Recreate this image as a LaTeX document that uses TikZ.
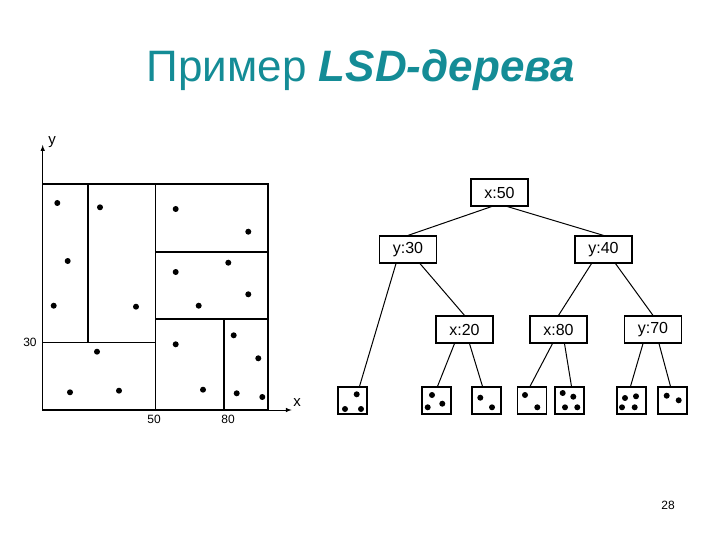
\documentclass[tikz,border=0pt]{standalone}
\usepackage{fontspec}
\setmainfont{Liberation Sans}
\usetikzlibrary{calc}
\definecolor{titlec}{RGB}{20,140,150}
\begin{document}
\begin{tikzpicture}[x=1pt,y=-1pt,
  dot/.style={circle,fill=black,inner sep=0pt,minimum size=6pt},
  tnode/.style={draw,line width=1.2pt,minimum width=57pt,minimum height=27pt,inner sep=0pt,font=\fontsize{16}{16}\selectfont},
  leaf/.style={draw,line width=1.2pt,minimum width=29pt,minimum height=27pt,inner sep=0pt},
  edge/.style={line width=1pt},
  lbl/.style={font=\fontsize{12}{12}\selectfont,inner sep=1pt}]
\useasboundingbox (0,0) rectangle (720,540);
\node[text=titlec,font=\fontsize{44}{44}\selectfont] (title) at (361,70) {Пример \textbf{\textit{LSD-дерева}}};
% axes
\coordinate (o) at (42.7,410);
\coordinate (ytop) at (42.7,145);
\coordinate (xend) at (291.7,410);
\draw[line width=1pt,-latex] (o) -- (ytop);
\draw[line width=1pt,-latex] (o) -- (xend);
\node[lbl,font=\fontsize{15}{15}\selectfont] (ylab) at (52,142) {y};
\node[lbl,font=\fontsize{15}{15}\selectfont] (xlab) at (297,403) {x};
\node[lbl] (l30) at (30,342) {30};
\node[lbl] (l50) at (154,419) {50};
\node[lbl] (l80) at (228,419) {80};
% partition
\begin{scope}[line width=1.2pt]
\draw (42.7,184) rectangle (268,410);
\draw (155.7,184) -- (155.7,410);
\draw (42.7,342.7) -- (155.7,342.7);
\draw (88,184) -- (88,342.7);
\draw (155.7,252) -- (268,252);
\draw (155.7,319) -- (268,319);
\draw (224,319) -- (224,410);
\end{scope}
\foreach \p [count=\i] in {(57.3,203),(100,207.3),(67.7,261),(53.7,305.7),(136,306.7),(175.7,209),(248.3,231.7),(228.3,262.7),(175.7,272),(248.3,294.3),(198.7,305.7),(97,351.7),(70,392.3),(119,390.7),(175.7,344.3),(203,389.7),(233.7,335.3),(258.3,358.3),(236.7,393.3),(262.3,397)}
  \node[dot] (p\i) at \p {};
% tree
\node[tnode] (n50) at (499.5,192.5) {x:50};
\node[tnode] (n30) at (408,249.5) {y:30};
\node[tnode] (n40) at (603.5,249.5) {y:40};
\node[tnode] (n20) at (464.5,329.5) {x:20};
\node[tnode] (n80) at (558.5,329.5) {x:80};
\node[tnode] (n70) at (653,329.5) {y:70};
\node[leaf] (f1) at (352.5,400.5) {};
\node[leaf] (f2) at (436.5,400.5) {};
\node[leaf] (f3) at (486.5,400.5) {};
\node[leaf] (f4) at (532,400.5) {};
\node[leaf] (f5) at (569.5,400.5) {};
\node[leaf] (f6) at (631.5,400.5) {};
\node[leaf] (f7) at (672.5,400.5) {};
\draw[edge] ($(n50.south)+(-8,0)$) -- (n30.north);
\draw[edge] ($(n50.south)+(8,0)$) -- (n40.north);
\draw[edge] ($(n30.south)+(-12,0)$) -- ($(f1.north)+(7,0)$);
\draw[edge] ($(n30.south)+(12,0)$) -- (n20.north);
\draw[edge] ($(n40.south)+(-12,0)$) -- (n80.north);
\draw[edge] ($(n40.south)+(12,0)$) -- (n70.north);
\draw[edge] ($(n20.south)+(-10,0)$) -- ($(f2.north)+(1,0)$);
\draw[edge] ($(n20.south)+(5,0)$) -- ($(f3.north)+(-4,0)$);
\draw[edge] ($(n80.south)+(-6,0)$) -- ($(f4.north)+(-2,0)$);
\draw[edge] ($(n80.south)+(6,0)$) -- ($(f5.north)+(2,0)$);
\draw[edge] ($(n70.south)+(-10,0)$) -- ($(f6.north)+(-1,0)$);
\draw[edge] ($(n70.south)+(6,0)$) -- ($(f7.north)+(-2,0)$);
\foreach \p [count=\i] in {(356.7,394.3),(345,409),(361,409),(432,395),(442.3,403.7),(427.7,407.3),(480.3,397.7),(492,407.3),(525,395),(537.3,407.3),(562.7,393),(573.3,396.7),(565,407.3),(577.3,407.3),(625,398),(636,396.3),(622,407.3),(634.7,407.3),(666.7,395.7),(678.7,400.3)}
  \node[dot] (q\i) at \p {};
\node[lbl] (pg) at (668,505) {28};
\end{tikzpicture}
\end{document}
